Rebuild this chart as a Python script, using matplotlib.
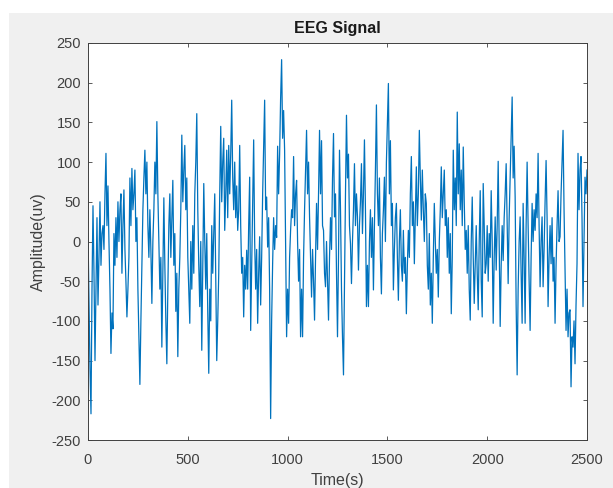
import numpy as np
import matplotlib
matplotlib.use("Agg")
import matplotlib.pyplot as plt
from matplotlib.patches import Rectangle

# EEG amplitude (uV) read every 5 samples, t = 0 .. 2500
step = 5
amplitude = [
    10, -80, -160, -217, -60, 45, -40, -150, -60, 30, -80, -20, 50, -30, 10, 20, -10, 60, 111, 20,
    70, 0, -60, -141, -90, -110, 10, -30, 30, -20, 50, 0, 40, 60, -40, 20, 65, -10, -50, -95,
    -60, -20, 80, 20, 92, 40, 60, 90, 0, 30, -60, -120, -180, -100, -30, 40, 80, 115, 60, 100,
    20, -20, 40, -10, -78, 0, 40, 100, 60, 151, 60, 0, -60, -20, -133, -40, 55, -30, -100, -154,
    -60, 20, 60, -20, 30, 77, -30, 10, -88, -40, -145, -60, -20, 40, 134, 50, 90, 121, 40, 80,
    -20, -60, -103, 0, -60, 20, -40, 60, 100, 161, 40, -30, -82, 0, -137, -30, 73, 0, -60, 10,
    -90, -166, -60, -100, 20, -40, 10, 60, -50, -150, -100, -40, 60, 145, 50, 100, 130, 14, 60, 115,
    30, 121, 60, 110, 178, 80, 40, 100, 30, 70, 14, 40, 121, 20, -40, -20, -95, -30, -60, -11,
    -60, 20, 81, -112, -30, 50, 128, 0, -60, -10, -103, -40, 6, -80, -20, 60, 120, 178, 40, 56,
    -7, 30, -60, -223, -100, -28, 30, -10, 20, 5, 120, 60, 110, 180, 229, 130, 165, 115, 0, -120,
    -60, -103, -20, 14, 40, 30, 107, 20, 60, 77, 0, -50, -10, -120, -60, -120, -20, 40, 90, 140,
    60, 100, 31, -20, -70, -10, -50, -99, -20, 48, -10, 60, 140, 60, 127, 20, 14, -40, -57, 0,
    -50, -99, -20, 30, -10, 80, 136, 31, 60, -40, -120, -20, 115, 40, -60, -120, -168, -50, 60, 159,
    80, 110, 20, -3, -53, 0, 40, 98, 20, 60, 31, -36, 20, 50, 98, 10, 60, 128, 40, -82,
    -30, -82, 0, 40, -20, 30, -61, 20, 90, 172, 60, 20, 80, -20, -66, 10, 40, 81, 0, 100,
    150, 199, 60, 127, 20, 48, -61, -10, 30, 48, -20, -74, 0, 40, -30, -50, 14, -40, -20, -91,
    -30, 14, -20, 60, 107, 20, 50, -28, 30, 94, 20, 60, 140, 80, 27, 90, 40, 0, 60, 48,
    -30, -60, 10, -80, -40, -103, -20, 48, 0, -40, -10, -70, 0, 40, 94, 30, 60, 90, 20, 40,
    -20, 30, -40, 10, -91, -20, 115, 40, 80, 20, 163, 60, 123, 40, 90, 20, 119, 50, -10, 14,
    -40, 20, -60, -99, 0, 56, -20, -78, -30, 20, -40, -86, 0, 64, -50, -95, 73, 20, -40, -28,
    20, -50, 10, -20, 64, 0, -103, -20, 31, -36, 20, 101, 0, -107, -30, 20, -24, 30, 60, 98,
    20, -53, 30, 80, 130, 182, 80, 120, 56, -80, -168, -60, 0, 31, -40, -103, 48, -20, -103, 20,
    100, 20, -50, -112, -20, 48, 0, 40, 14, 60, 30, 111, 20, -57, 0, 31, -57, -10, 50, 102,
    30, -82, -20, 20, -28, 30, -50, -20, -103, -30, 20, 64, 0, 6, 60, 100, 140, 40, -36, -112,
    -60, -120, -90, -86, -183, -120, -133, -100, -154, -80, -28, 111, 40, 90, 107, 30, -82, 0, 81, 60,
    90,
]
time = np.arange(len(amplitude)) * step

x_ticks = [0, 500, 1000, 1500, 2000, 2500]
y_ticks = [-250, -200, -150, -100, -50, 0, 50, 100, 150, 200, 250]

plt.rcParams['font.family'] = ['Liberation Sans', 'DejaVu Sans']
plt.rcParams['axes.unicode_minus'] = False

fig = plt.figure(figsize=(6.13, 4.88), dpi=100, facecolor='white')
fig.patches.append(Rectangle((9 / 613, 0), 1, 1 - 13 / 488, transform=fig.transFigure,
                             facecolor='#f0f0f0', edgecolor='none', zorder=-10))
ax = fig.add_axes([88 / 613, 1 - 440 / 488, (587 - 88) / 613, (440 - 43) / 488])
ax.set_facecolor('white')
ax.plot(time, amplitude, color='#0072BD', lw=0.9)

ax.set_xlim(0, 2500)
ax.set_ylim(-250, 250)
ax.set_xticks(x_ticks)
ax.set_yticks(y_ticks)
ax.tick_params(direction='in', top=True, right=True, length=3, width=0.6,
               colors='#404040', labelsize=10.5, labelcolor='#404040')
ax.tick_params(axis='x', pad=9)
ax.tick_params(axis='y', pad=5)
for s in ax.spines.values():
    s.set_color('#404040')
    s.set_linewidth(0.7)

ax.set_title('EEG Signal', fontsize=11.5, fontweight='bold', color='#1a1a1a', pad=7)
ax.set_xlabel('Time(s)', fontsize=11.5, color='#404040', labelpad=5)
ax.set_ylabel('Amplitude(uv)', fontsize=11.5, color='#404040', labelpad=4)

fig.savefig('out.png', dpi=100, facecolor=fig.get_facecolor())
